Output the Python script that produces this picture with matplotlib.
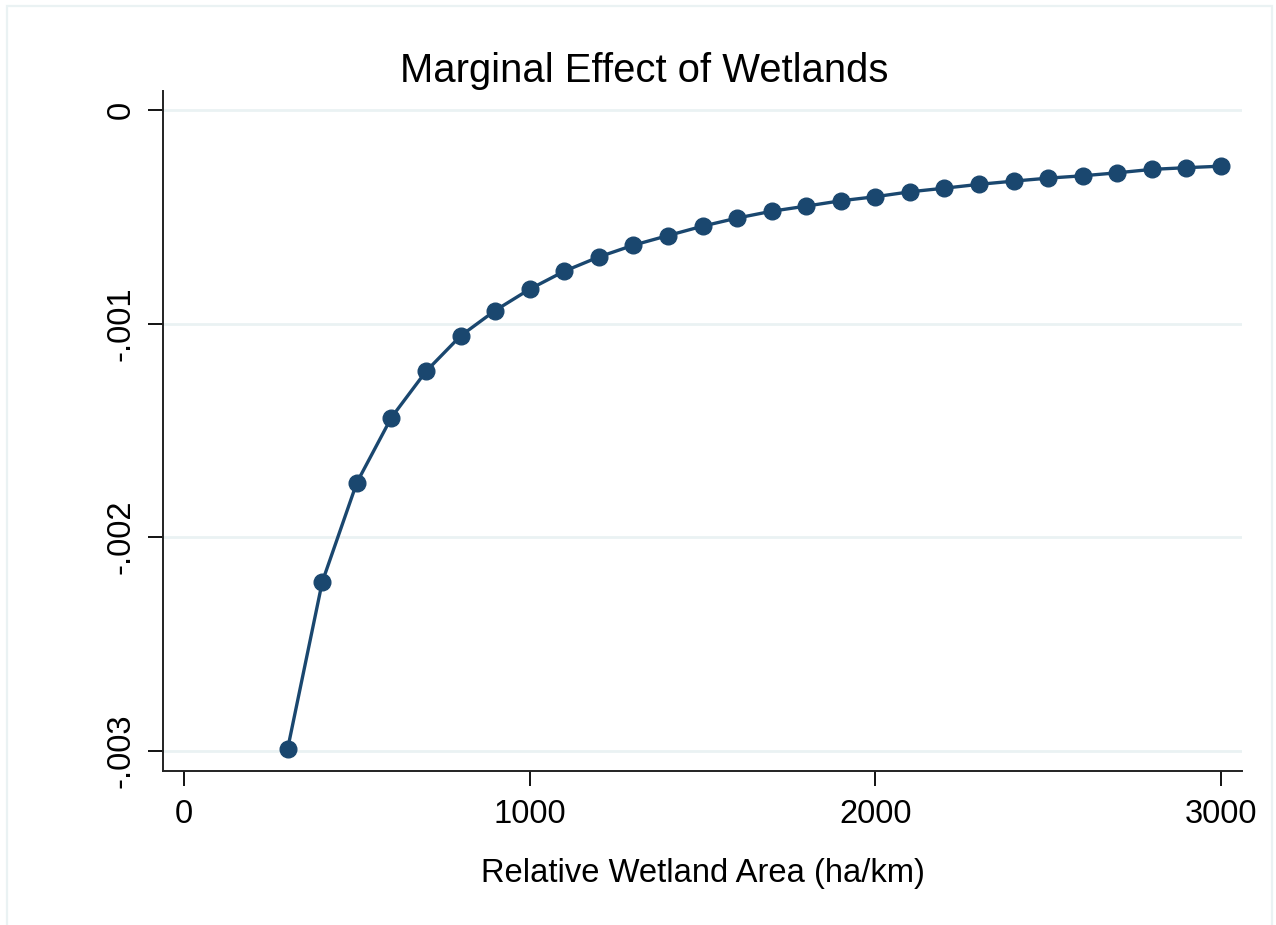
import matplotlib
matplotlib.use("Agg")
import matplotlib.pyplot as plt
from matplotlib.patches import Rectangle

plt.rcParams['font.family'] = ['Liberation Sans', 'DejaVu Sans']

# data
wetland_area = [300, 400, 500, 600, 700, 800, 900, 1000, 1100, 1200,
                1300, 1400, 1500, 1600, 1700, 1800, 1900, 2000, 2100, 2200,
                2300, 2400, 2500, 2600, 2700, 2800, 2900, 3000]
marginal_effect = [-0.00299, -0.00221, -0.001745, -0.00144, -0.001224, -0.001058, -0.000939,
                   -0.000839, -0.000755, -0.000688, -0.000633, -0.000588, -0.000544,
                   -0.000506, -0.000474, -0.00045, -0.000425, -0.000406, -0.000383,
                   -0.000366, -0.000348, -0.000333, -0.000319, -0.000308, -0.000294,
                   -0.000278, -0.00027, -0.000263]
x_ticks = [0, 1000, 2000, 3000]
y_ticks = [0, -0.001, -0.002, -0.003]
y_ticklabels = ['0', '-.001', '-.002', '-.003']

navy = '#1a476f'
grid_col = '#eaf2f3'

fig = plt.figure(figsize=(12.76, 9.25), dpi=100)
ax = fig.add_axes([163 / 1276, 154 / 925, 1079 / 1276, 680 / 925])

# outer graph region border
fig.patches.append(Rectangle((7 / 1276, -0.05), 1265 / 1276, 1.05 - 6 / 925,
                             transform=fig.transFigure, fill=False,
                             edgecolor=grid_col, linewidth=1.6))

ax.plot(wetland_area, marginal_effect, color=navy, linewidth=2.4,
        marker='o', markersize=12, markerfacecolor=navy, markeredgecolor=navy,
        zorder=3)

ax.set_xlim(-60.7, 3060.7)
ax.set_ylim(-0.003095, 0.000089)
ax.set_xticks(x_ticks)
ax.set_yticks(y_ticks)
ax.set_yticklabels(y_ticklabels, rotation=90, va='center')
ax.tick_params(axis='both', direction='out', length=11, width=1.3,
               labelsize=23.5, colors='black')
ax.tick_params(axis='x', pad=9)
ax.tick_params(axis='y', pad=8)

ax.grid(axis='y', color=grid_col, linewidth=2)
ax.set_axisbelow(True)
for side in ['top', 'right']:
    ax.spines[side].set_visible(False)
for side in ['left', 'bottom']:
    ax.spines[side].set_linewidth(1.4)
    ax.spines[side].set_color('#222222')

ax.set_xlabel('Relative Wetland Area (ha/km)', fontsize=23.6, labelpad=20)
fig.text(644 / 1276, 1 - 71 / 925, 'Marginal Effect of Wetlands',
         fontsize=28.8, ha='center', va='center')

fig.savefig('out.png', dpi=100)
